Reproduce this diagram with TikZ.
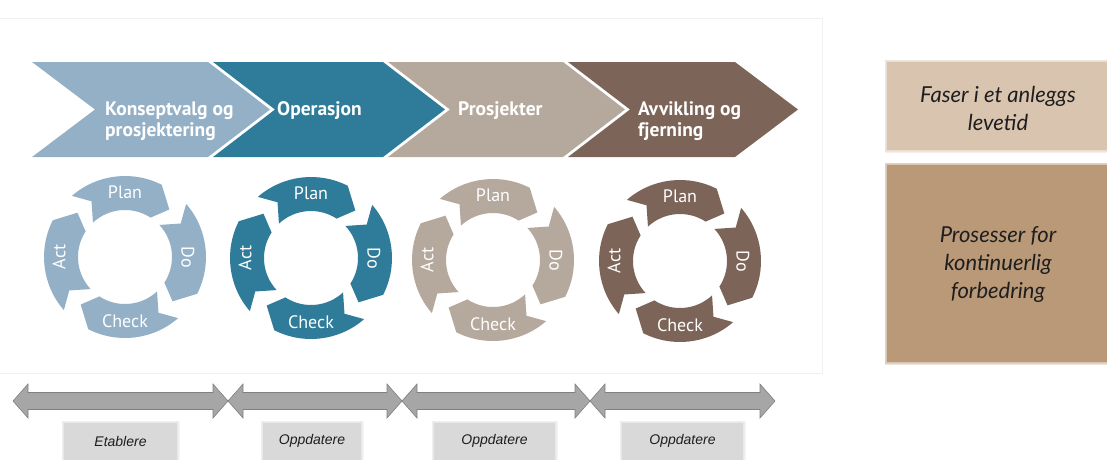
\documentclass[tikz,border=0pt]{standalone}
\usepackage{fontspec}
\newfontfamily\ptfont{PT Sans}
\newfontfamily\latofont{Lato}
\newfontfamily\arialfont{Liberation Sans}
\usetikzlibrary{calc}
\definecolor{cA}{RGB}{148,176,199}
\definecolor{cB}{RGB}{46,124,153}
\definecolor{cC}{RGB}{181,168,157}
\definecolor{cD}{RGB}{124,101,88}
\definecolor{boxA}{RGB}{217,196,176}
\definecolor{boxB}{RGB}{186,153,120}
\definecolor{arrowgray}{RGB}{166,166,166}
\definecolor{arrowedge}{RGB}{128,128,128}
\definecolor{labelgray}{RGB}{217,217,217}
\definecolor{txtdark}{RGB}{30,30,30}
\newcommand\pdRo{81}
\newcommand\pdRi{47}
\newcommand\pdRm{65}
% #1 centre, #2 start angle (tikz), #3 colour ; travel = increasing tikz angle (clockwise on screen)
\newcommand\pdcaseg[3]{%
  \fill[#3] ($(#1)+({#2+4}:\pdRo)$)
    arc[start angle={#2+4}, end angle={#2+72}, radius=\pdRo]
    -- ($(#1)+({#2+88}:\pdRm)$)
    -- ($(#1)+({#2+78}:\pdRi)$)
    arc[start angle={#2+78}, end angle={#2+2}, radius=\pdRi]
    -- ($(#1)+({#2+14}:\pdRm)$) -- cycle;}
\newcommand\pdcacycle[2]{%
  \pdcaseg{#1}{-135}{#2}\pdcaseg{#1}{-45}{#2}\pdcaseg{#1}{45}{#2}\pdcaseg{#1}{135}{#2}}
% double arrow #1 left x, #2 right x
\newcommand\dblarrow[2]{%
  \filldraw[fill=arrowgray, draw=arrowedge, line width=0.6pt, line join=miter]
    (#1,401) -- (#1+15,384) -- (#1+15,392.5) -- (#2-15,392.5) -- (#2-15,384) -- (#2,401)
    -- (#2-15,418) -- (#2-15,409.5) -- (#1+15,409.5) -- (#1+15,418) -- cycle;}
% soft-edged filled box
\newcommand\softbox[3]{%
  \foreach \w in {5,3.5,2}{\draw[#1, opacity=0.25, line width=\w pt] #2 rectangle #3;}
  \fill[#1] #2 rectangle #3;}
\begin{document}
\begin{tikzpicture}[x=1pt,y=-1pt,
  phase/.style={font=\ptfont\bfseries\fontsize{19.5}{21}\selectfont, text=white, inner sep=0pt, anchor=base west},
  pdca/.style={font=\ptfont\fontsize{18}{20}\selectfont, text=white, inner sep=0pt},
  sidetext/.style={font=\latofont\itshape\fontsize{22}{28}\selectfont, text=txtdark, align=center, inner sep=0pt},
  steplabel/.style={font=\arialfont\itshape\fontsize{14}{16}\selectfont, text=txtdark, inner sep=0pt}]
\useasboundingbox (0,0) rectangle (1107,459);
% faint frame
\draw[black!6, line width=0.8pt] (-1,18) rectangle (822,373);
% chevrons
\fill[cA] (32,62) -- (208,62) -- (270,109.5) -- (208,157) -- (32,157) -- (95,109.5) -- cycle;
\fill[cB] (213,62) -- (383,62) -- (445,109.5) -- (383,157) -- (213,157) -- (275,109.5) -- cycle;
\fill[cC] (388,62) -- (563,62) -- (625,109.5) -- (563,157) -- (388,157) -- (450,109.5) -- cycle;
\fill[cD] (568,62) -- (735,62) -- (798,109.5) -- (735,157) -- (568,157) -- (630,109.5) -- cycle;
\node[phase] (k1) at (105,115) {Konseptvalg og};
\node[phase] (k2) at (105,136) {prosjektering};
\node[phase] (op) at (277,115) {Operasjon};
\node[phase] (pr) at (458,115) {Prosjekter};
\node[phase] (av1) at (638,115) {Avvikling og};
\node[phase] (av2) at (638,136) {fjerning};
% PDCA cycles
\coordinate (c1) at (125,257);
\coordinate (c2) at (311,258);
\coordinate (c3) at (493,260);
\coordinate (c4) at (680,261);
\pdcacycle{c1}{cA}
\pdcacycle{c2}{cB}
\pdcacycle{c3}{cC}
\pdcacycle{c4}{cD}
\foreach \c in {1,2,3,4}{
  \node[pdca] (plan\c) at ($(c\c)+(0,-65)$) {Plan};
  \node[pdca] (check\c) at ($(c\c)+(0,64)$) {Check};
  \node[pdca, rotate=-90] (do\c) at ($(c\c)+(63,0)$) {Do};
  \node[pdca, rotate=90] (act\c) at ($(c\c)+(-66,0)$) {Act};
}
% right legend boxes
\softbox{boxA}{(887,62)}{(1110,150)}
\softbox{boxB}{(887,165)}{(1110,362)}
\node[sidetext] (faser) at (998,108) {Faser i et anleggs\\levetid};
\node[sidetext] (pros) at (998,264) {Prosesser for\\kontinuerlig\\forbedring};
% bottom double arrows
\dblarrow{13}{228}
\dblarrow{228}{402}
\dblarrow{402}{590}
\dblarrow{590}{775}
% labels
\softbox{labelgray}{(64,423)}{(177,462)}
\softbox{labelgray}{(263,423)}{(361,462)}
\softbox{labelgray}{(434,423)}{(555,462)}
\softbox{labelgray}{(622,423)}{(743,462)}
\node[steplabel] (l1) at (120.5,441) {Etablere};
\node[steplabel] (l2) at (312,441) {Oppdatere};
\node[steplabel] (l3) at (494.5,441) {Oppdatere};
\node[steplabel] (l4) at (682.5,441) {Oppdatere};
\end{tikzpicture}
\end{document}
